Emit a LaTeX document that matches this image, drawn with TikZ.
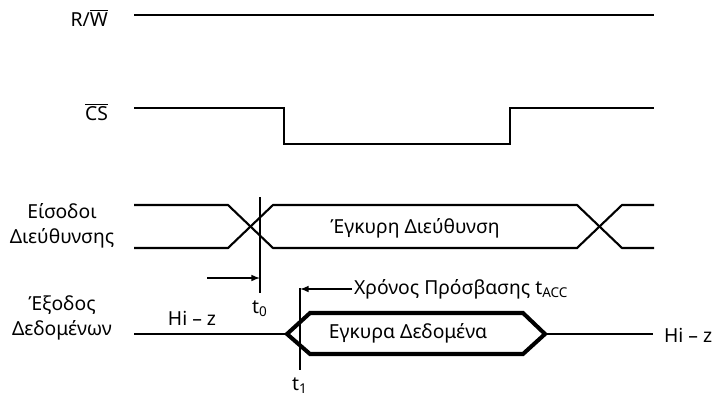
\documentclass[tikz,border=0pt]{standalone}
\usepackage{fontspec}
\setmainfont{Noto Sans}
\usepackage{tikz}
\usetikzlibrary{arrows, positioning, calc}

\begin{document}
\begin{tikzpicture}[x=0.02cm, y=-0.02cm,
    sig/.style={line width=1.5pt},
    bus/.style={line width=1.2pt},
    dbus/.style={line width=2.3pt, line join=miter},
    tmark/.style={line width=1.6pt},
    lbl/.style={align=center, font=\fontsize{11}{14}\selectfont, inner sep=1pt},
    timing/.style={->, >=latex, line width=0.7pt}]
\useasboundingbox (0,0) rectangle (712,400);
% labels on the left
\node[lbl, anchor=east] (rw) at (110,18) {R/$\overline{\mbox{W}}$};
\node[lbl, anchor=east] (cs) at (110,112) {$\overline{\mbox{CS}}$};
\node[lbl] (addr) at (62,226) {Είσοδοι\\Διεύθυνσης};
\node[lbl] (dout) at (62,318) {Έξοδος\\Δεδομένων};
% R/W and CS
\draw[sig] (134,15) -- (654,15);
\draw[sig] (134,108) -- (284,108) -- (284,144) -- (510,144) -- (510,108) -- (654,108);
% address inputs
\draw[bus] (134,205) -- (228,205) -- (273,248) -- (577,248) -- (622,205) -- (654,205);
\draw[bus] (134,248) -- (228,248) -- (273,205) -- (577,205) -- (622,248) -- (654,248);
\node[lbl] (valaddr) at (415,228) {Έγκυρη Διεύθυνση};
% data output
\draw[sig] (134,334) -- (287,334);
\draw[dbus] (287,334) -- (310,313) -- (523,313) -- (545,334) -- (523,354) -- (310,354) -- cycle;
\draw[sig] (545,334) -- (653,334);
\node[lbl] (hiz1) at (192,318) {Hi -- z};
\node[lbl, anchor=west] (hiz2) at (662,335) {Hi -- z};
\node[lbl] (valdata) at (408,333) {Εγκυρα Δεδομένα};
% time marks
\coordinate (t0top) at (260,197);
\coordinate (t0bot) at (260,293);
\coordinate (t1top) at (300,288);
\coordinate (t1bot) at (300,370);
\draw[tmark] (t0top) -- (t0bot);
\draw[tmark] (t1top) -- (t1bot);
\node[lbl, below=3pt of t0bot] (t0) {t\textsubscript{0}};
\node[lbl, below=3pt of t1bot] (t1) {t\textsubscript{1}};
% access time
\coordinate (a0) at (207,278);
\node[lbl, anchor=west] (tacc) at (352,289) {Χρόνος Πρόσβασης t\textsubscript{ACC}};
\draw[timing] (a0) -- (a0 -| t0top);
\draw[timing] (tacc.west) -- (tacc.west -| t1top);
\end{tikzpicture}
\end{document}
